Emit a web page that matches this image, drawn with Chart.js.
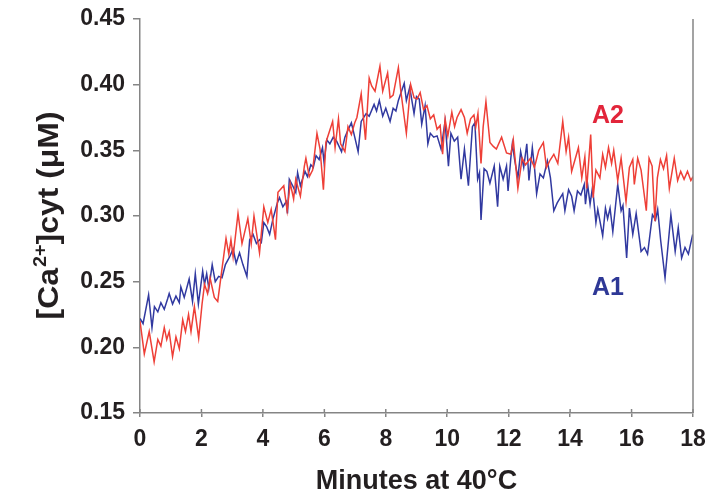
<!DOCTYPE html>
<html><head><meta charset="utf-8">
<script src="https://cdn.jsdelivr.net/npm/chart.js@4/dist/chart.umd.min.js"></script>
<style>html,body{margin:0;padding:0;background:#fff}#wrap{width:708px;height:498px;position:relative}</style>
</head><body><div id="wrap"><canvas id="c" width="708" height="498"></canvas></div>
<script>
// A2 (red)
const a2Minutes = [0.00,0.14,0.30,0.46,0.58,0.68,0.79,0.87,0.95,1.06,1.17,1.28,1.39,1.48,1.58,1.66,1.77,1.91,2.02,2.10,2.20,2.28,2.42,2.53,2.67,2.80,2.89,2.96,3.03,3.19,3.32,3.51,3.62,3.71,3.89,4.03,4.16,4.27,4.41,4.49,4.68,4.79,4.89,5.00,5.07,5.22,5.35,5.40,5.51,5.62,5.76,5.86,5.97,6.05,6.27,6.35,6.46,6.53,6.67,6.77,6.88,6.99,7.06,7.20,7.34,7.46,7.54,7.65,7.81,7.90,8.06,8.14,8.24,8.41,8.49,8.67,8.81,8.92,9.02,9.12,9.23,9.34,9.45,9.56,9.67,9.77,9.85,9.93,10.02,10.15,10.24,10.32,10.45,10.56,10.65,10.76,10.87,10.93,11.00,11.10,11.17,11.26,11.39,11.50,11.60,11.77,11.93,12.07,12.15,12.30,12.44,12.55,12.71,12.84,12.98,13.13,13.23,13.36,13.47,13.60,13.76,13.87,13.95,14.05,14.27,14.38,14.48,14.54,14.67,14.75,14.84,14.97,15.06,15.15,15.25,15.35,15.42,15.55,15.66,15.82,15.93,16.04,16.09,16.20,16.31,16.48,16.57,16.67,16.76,16.84,16.94,17.04,17.14,17.23,17.39,17.50,17.60,17.71,17.82,17.93,18.00];
const a2Values = [0.220,0.195,0.212,0.189,0.206,0.201,0.215,0.206,0.212,0.193,0.208,0.199,0.221,0.212,0.225,0.212,0.231,0.207,0.233,0.248,0.241,0.253,0.238,0.235,0.260,0.283,0.271,0.282,0.269,0.302,0.279,0.298,0.279,0.300,0.272,0.307,0.295,0.305,0.282,0.318,0.323,0.304,0.325,0.313,0.328,0.315,0.338,0.344,0.330,0.335,0.363,0.351,0.320,0.356,0.372,0.352,0.374,0.355,0.349,0.368,0.362,0.371,0.375,0.393,0.358,0.405,0.399,0.395,0.414,0.395,0.409,0.390,0.392,0.413,0.395,0.363,0.400,0.390,0.389,0.394,0.381,0.384,0.374,0.377,0.366,0.369,0.347,0.374,0.361,0.379,0.368,0.375,0.381,0.375,0.363,0.374,0.377,0.368,0.378,0.340,0.368,0.387,0.356,0.353,0.351,0.360,0.348,0.347,0.358,0.321,0.344,0.339,0.344,0.337,0.350,0.356,0.337,0.343,0.347,0.340,0.372,0.349,0.360,0.334,0.352,0.329,0.345,0.321,0.362,0.314,0.335,0.329,0.347,0.337,0.352,0.340,0.350,0.327,0.344,0.311,0.337,0.343,0.324,0.344,0.335,0.304,0.344,0.338,0.296,0.329,0.343,0.336,0.346,0.321,0.344,0.327,0.334,0.328,0.334,0.327,0.330];
// A1 (blue)
const a1Minutes = [0.00,0.10,0.28,0.39,0.47,0.58,0.68,0.79,0.90,0.95,1.06,1.17,1.28,1.33,1.44,1.60,1.71,1.80,1.90,2.04,2.10,2.17,2.24,2.35,2.45,2.56,2.67,2.78,2.92,3.03,3.13,3.24,3.35,3.48,3.57,3.68,3.79,3.89,3.95,4.03,4.12,4.22,4.33,4.39,4.47,4.54,4.65,4.76,4.80,4.86,4.97,5.07,5.13,5.22,5.37,5.45,5.56,5.64,5.73,5.83,5.94,5.99,6.08,6.18,6.29,6.40,6.56,6.67,6.78,6.88,6.99,7.10,7.20,7.36,7.46,7.62,7.70,7.79,7.90,8.00,8.14,8.24,8.33,8.41,8.60,8.67,8.78,8.92,9.00,9.09,9.17,9.28,9.37,9.45,9.56,9.67,9.80,9.93,10.04,10.12,10.23,10.34,10.45,10.56,10.69,10.82,10.90,10.99,11.05,11.10,11.20,11.29,11.39,11.53,11.64,11.71,11.82,11.93,11.98,12.07,12.12,12.20,12.30,12.39,12.49,12.59,12.66,12.77,12.84,12.91,13.02,13.13,13.26,13.36,13.47,13.58,13.76,13.83,13.95,14.05,14.13,14.24,14.35,14.46,14.50,14.57,14.65,14.73,14.84,14.90,15.06,15.15,15.22,15.30,15.39,15.55,15.66,15.72,15.84,15.93,16.04,16.15,16.31,16.42,16.52,16.68,16.78,16.85,16.95,17.09,17.28,17.42,17.52,17.63,17.74,17.85,17.99];
const a1Values = [0.222,0.218,0.240,0.215,0.231,0.227,0.234,0.229,0.237,0.241,0.233,0.239,0.234,0.246,0.238,0.252,0.235,0.256,0.233,0.258,0.248,0.256,0.245,0.263,0.250,0.254,0.253,0.263,0.269,0.275,0.264,0.272,0.263,0.254,0.282,0.286,0.279,0.282,0.280,0.295,0.292,0.286,0.298,0.303,0.310,0.314,0.307,0.311,0.302,0.328,0.323,0.318,0.333,0.323,0.334,0.330,0.339,0.337,0.346,0.343,0.352,0.341,0.358,0.355,0.360,0.357,0.349,0.360,0.366,0.371,0.360,0.349,0.372,0.378,0.376,0.385,0.380,0.388,0.376,0.382,0.372,0.382,0.380,0.388,0.401,0.388,0.398,0.378,0.391,0.389,0.370,0.384,0.355,0.363,0.360,0.361,0.351,0.372,0.338,0.363,0.357,0.360,0.328,0.351,0.323,0.368,0.371,0.328,0.333,0.297,0.336,0.334,0.325,0.338,0.307,0.338,0.328,0.338,0.319,0.344,0.355,0.342,0.329,0.349,0.337,0.355,0.327,0.352,0.337,0.317,0.332,0.329,0.342,0.329,0.304,0.310,0.317,0.304,0.320,0.315,0.304,0.319,0.316,0.324,0.309,0.324,0.309,0.322,0.295,0.305,0.285,0.306,0.298,0.306,0.288,0.324,0.304,0.308,0.268,0.306,0.286,0.302,0.273,0.276,0.271,0.301,0.297,0.305,0.281,0.253,0.301,0.273,0.291,0.268,0.276,0.271,0.286];

const xTicks = [0,2,4,6,8,10,12,14,16,18];
const yTicks = [0.15,0.20,0.25,0.30,0.35,0.40,0.45];
const xTitle = 'Minutes at 40°C';
const yTitleParts = ['[Ca', '2+', ']cyt (μM)'];
const seriesNames = ['A1', 'A2'];
const labelAnchors = {A2: [15.23, 0.376], A1: [15.23, 0.245]};

const FONT = '"Liberation Sans", Arial, sans-serif';
const TXT = '#231f20';
const AXIS = '#858585';
const RED = '#ee3f37';
const BLUE = '#3139a0';

function pts(xs, ys){ return xs.map((x,i)=>({x:x, y:ys[i]})); }

const extras = {
  id: 'extras',
  afterDraw(chart){
    const ctx = chart.ctx, ca = chart.chartArea;
    const xs = chart.scales.x, ys = chart.scales.y;
    ctx.save();
    // right border
    ctx.strokeStyle = AXIS; ctx.lineWidth = 1.5;
    ctx.beginPath(); ctx.moveTo(ca.right, ca.top); ctx.lineTo(ca.right, ca.bottom); ctx.stroke();
    // inward x tick stubs
    xTicks.forEach(v=>{
      const px = xs.getPixelForValue(v);
      ctx.beginPath(); ctx.moveTo(px, ca.bottom); ctx.lineTo(px, ca.bottom-4); ctx.stroke();
    });
    // x title
    ctx.fillStyle = TXT;
    ctx.font = 'bold 27px ' + FONT;
    ctx.textAlign = 'center'; ctx.textBaseline = 'middle';
    ctx.fillText(xTitle, (ca.left+ca.right)/2, 482);
    // y title with superscript
    ctx.save();
    ctx.translate(47, 216);
    ctx.rotate(-Math.PI/2);
    ctx.scale(1.1, 1);
    const big = 'bold 29px ' + FONT, small = 'bold 18px ' + FONT;
    ctx.font = big; const w1 = ctx.measureText(yTitleParts[0]).width;
    const w3 = ctx.measureText(yTitleParts[2]).width;
    ctx.font = small; const w2 = ctx.measureText(yTitleParts[1]).width;
    let x0 = -(w1+w2+w3)/2;
    ctx.textAlign = 'left'; ctx.textBaseline = 'alphabetic';
    ctx.font = big; ctx.fillText(yTitleParts[0], x0, 11);
    ctx.font = small; ctx.fillText(yTitleParts[1], x0+w1+1, -1);
    ctx.font = big; ctx.fillText(yTitleParts[2], x0+w1+w2+1, 11);
    ctx.restore();
    // series labels
    ctx.font = 'bold 25px ' + FONT;
    ctx.textAlign = 'center'; ctx.textBaseline = 'middle';
    ctx.fillStyle = '#e2253a';
    ctx.fillText('A2', xs.getPixelForValue(labelAnchors.A2[0]), ys.getPixelForValue(labelAnchors.A2[1]));
    ctx.fillStyle = '#2e3896';
    ctx.fillText('A1', xs.getPixelForValue(labelAnchors.A1[0]), ys.getPixelForValue(labelAnchors.A1[1]));
    ctx.restore();
  }
};

new Chart(document.getElementById('c'), {
  type: 'line',
  data: {
    datasets: [
      {label: seriesNames[1], data: pts(a2Minutes, a2Values), borderColor: RED, borderWidth: 1.5, pointRadius: 0, tension: 0, fill: false},
      {label: seriesNames[0], data: pts(a1Minutes, a1Values), borderColor: BLUE, borderWidth: 1.5, pointRadius: 0, tension: 0, fill: false}
    ]
  },
  options: {
    responsive: false, animation: false, devicePixelRatio: 1,
    layout: {padding: {top: 19, right: 15, left: 0, bottom: 0}},
    plugins: {legend: {display: false}, tooltip: {enabled: false}},
    scales: {
      x: {
        type: 'linear', min: 0, max: 18,
        afterBuildTicks: s => { s.ticks = xTicks.map(v => ({value: v})); },
        afterFit: s => { s.height = 498 - 413; s.paddingLeft = 0; s.paddingRight = 0; },
        ticks: {font: {family: FONT, size: 23, weight: 'bold'}, color: TXT, padding: 9, maxRotation: 0, autoSkip: false},
        grid: {display: true, drawOnChartArea: false, drawTicks: true, tickLength: 4, color: AXIS, lineWidth: 1.5},
        border: {display: true, color: AXIS, width: 1.5}
      },
      y: {
        min: 0.15, max: 0.45,
        afterBuildTicks: s => { s.ticks = yTicks.map(v => ({value: v})); },
        afterFit: s => { s.width = 140; s.paddingTop = 0; s.paddingBottom = 0; },
        ticks: {font: {family: FONT, size: 23, weight: 'bold'}, color: TXT, padding: 8, autoSkip: false, callback: v => v.toFixed(2)},
        grid: {display: true, drawOnChartArea: false, drawTicks: true, tickLength: 7, color: AXIS, lineWidth: 1.5},
        border: {display: true, color: AXIS, width: 1.5}
      }
    }
  },
  plugins: [extras]
});
</script></body></html>
